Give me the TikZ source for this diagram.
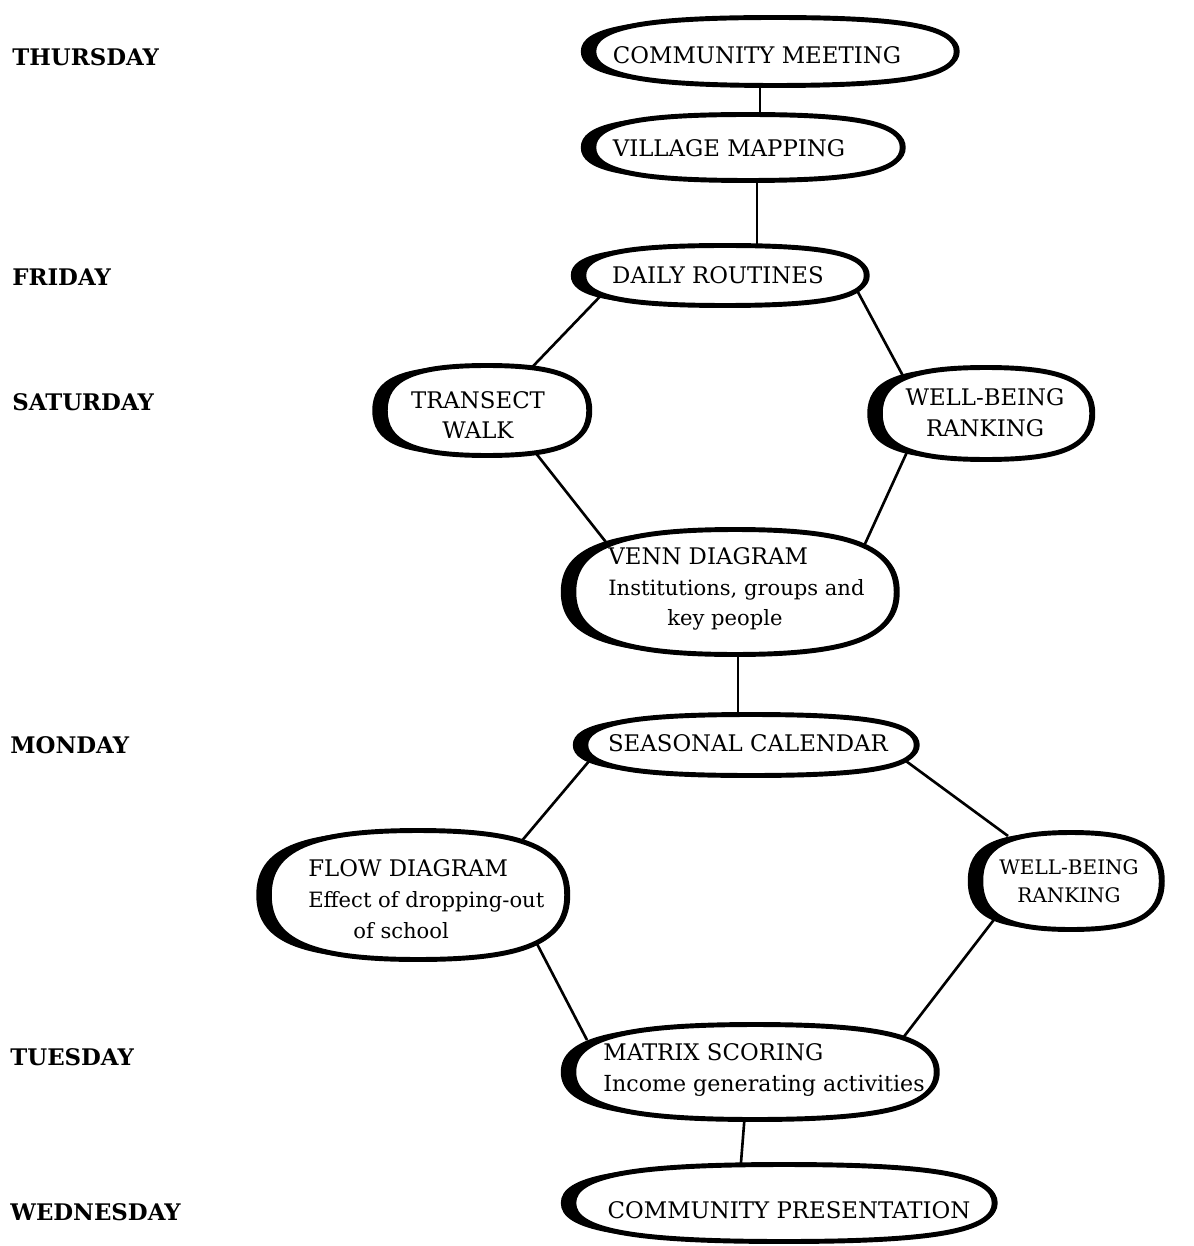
\documentclass[tikz,border=0pt]{standalone}
\usepackage{fontspec}
\setmainfont{DejaVu Serif}
\usetikzlibrary{calc}
\newcommand\blobk{0.72}
\newcommand\blobpath[1]{(#1.east)
  .. controls ($(#1.east)!\blobk!(#1.north east)$) and ($(#1.north)!\blobk!(#1.north east)$) .. (#1.north)
  .. controls ($(#1.north)!\blobk!(#1.north west)$) and ($(#1.west)!\blobk!(#1.north west)$) .. (#1.west)
  .. controls ($(#1.west)!\blobk!(#1.south west)$) and ($(#1.south)!\blobk!(#1.south west)$) .. (#1.south)
  .. controls ($(#1.south)!\blobk!(#1.south east)$) and ($(#1.east)!\blobk!(#1.south east)$) .. (#1.east) -- cycle}
\begin{document}
\begin{tikzpicture}[x=0.02cm,y=-0.02cm,
  box/.style={rectangle, inner sep=0pt, outer sep=0pt},
  blob/.style={draw=black, line width=2.8pt, fill=white, line join=round,
    preaction={fill=black, transform canvas={xshift=-0.26cm}},
    preaction={fill=black, transform canvas={xshift=0.07cm}}},
  txt/.style={inner sep=0pt, align=center, font=\fontsize{13}{17.5}\selectfont},
  day/.style={anchor=west, font=\fontsize{13}{15}\selectfont\bfseries, inner sep=0pt},
  link/.style={line width=1.5pt}]
\useasboundingbox[fill=white] (0,0) rectangle (1193,1246);

% day labels
\node[day] (thu) at (12,57) {THURSDAY};
\node[day] (fri) at (12,277) {FRIDAY};
\node[day] (sat) at (12,402) {SATURDAY};
\node[day] (mon) at (10,745) {MONDAY};
\node[day] (tue) at (10,1057) {TUESDAY};
\node[day] (wed) at (10,1212) {WEDNESDAY};

% activity boxes (outline drawn below)
\node[box, minimum width=7.25cm, minimum height=1.36cm] (cm)   at (775,51.5)  {};
\node[box, minimum width=6.17cm, minimum height=1.32cm] (vm)   at (748,147.5) {};
\node[box, minimum width=5.65cm, minimum height=1.2cm]  (dr)   at (725,275.5) {};
\node[box, minimum width=4.07cm, minimum height=1.8cm]  (tw)   at (487,410.5) {};
\node[box, minimum width=4.23cm, minimum height=1.84cm] (wb1)  at (986,413.5) {};
\node[box, minimum width=6.45cm, minimum height=2.5cm]  (venn) at (735,592)   {};
\node[box, minimum width=6.61cm, minimum height=1.22cm] (sc)   at (751,745)   {};
\node[box, minimum width=5.95cm, minimum height=2.58cm] (fd)   at (418,895)   {};
\node[box, minimum width=3.61cm, minimum height=1.94cm] (wb2)  at (1071,881)  {};
\node[box, minimum width=7.25cm, minimum height=1.9cm]  (ms)   at (755,1072)  {};
\node[box, minimum width=8.41cm, minimum height=1.54cm] (cp)   at (784,1203)  {};

% connectors (ends hidden under the blobs)
\draw[link] ($(cm)+(-15,28)$)   -- ($(vm)+(12,-28)$);
\draw[link] ($(vm)+(9,27)$)     -- ($(dr)+(32,-26)$);
\draw[link] ($(dr)+(-125,21)$)  -- ($(tw)+(40,-38)$);
\draw[link] ($(dr)+(131,13)$)   -- ($(wb1)+(-80,-32)$);
\draw[link] ($(tw)+(42,34)$)    -- ($(venn)+(-126,-46)$);
\draw[link] ($(wb1)+(-76,32)$)  -- ($(venn)+(129,-46)$);
\draw[link] ($(venn)+(3,53)$)   -- ($(sc)+(-13,-25)$);
\draw[link] ($(sc)+(-161,15)$)  -- ($(fd)+(102,-52)$);
\draw[link] ($(sc)+(144,8)$)    -- ($(wb2)+(-63,-45)$);
\draw[link] ($(fd)+(117,45)$)   -- ($(ms)+(-168,-32)$);
\draw[link] ($(wb2)+(-75,36)$)  -- ($(ms)+(144,-29)$);
\draw[link] ($(ms)+(-10,40)$)   -- ($(cp)+(-44,-28)$);

% blob outlines
\path[blob] \blobpath{cm};
\path[blob] \blobpath{vm};
\path[blob] \blobpath{dr};
\path[blob] \blobpath{tw};
\path[blob] \blobpath{wb1};
\path[blob] \blobpath{venn};
\path[blob] \blobpath{sc};
\path[blob] \blobpath{fd};
\path[blob] \blobpath{wb2};
\path[blob] \blobpath{ms};
\path[blob] \blobpath{cp};

% activity texts
\node[txt] (cmt) at (757,55) {COMMUNITY MEETING};
\node[txt] (vmt) at (729,148) {VILLAGE MAPPING};
\node[txt] (drt) at (718,275) {DAILY ROUTINES};
\node[txt] (twt) at (478,415) {TRANSECT\\WALK};
\node[txt] (wb1t) at (985,413) {WELL-BEING\\RANKING};
\node[txt, anchor=west, align=left] (vennt) at (608,589)
  {VENN DIAGRAM\\{\fontsize{12}{17.5}\selectfont Institutions, groups and}\\\hspace*{1.18cm}{\fontsize{12}{17.5}\selectfont key people}};
\node[txt] (sct) at (748,743) {SEASONAL CALENDAR};
\node[txt, anchor=west, align=left] (fdt) at (308,899)
  {FLOW DIAGRAM\\{\fontsize{12}{17.5}\selectfont Effect of dropping-out}\\\hspace*{0.9cm}{\fontsize{12}{17.5}\selectfont of school}};
\node[txt, font=\fontsize{11.4}{16}\selectfont] (wb2t) at (1069,881) {WELL-BEING\\RANKING};
\node[txt, anchor=west, align=left] (mst) at (603,1070)
  {MATRIX SCORING\\{\fontsize{12.6}{17.5}\selectfont Income generating activities}};
\node[txt] (cpt) at (789,1210) {COMMUNITY PRESENTATION};
\end{tikzpicture}
\end{document}
